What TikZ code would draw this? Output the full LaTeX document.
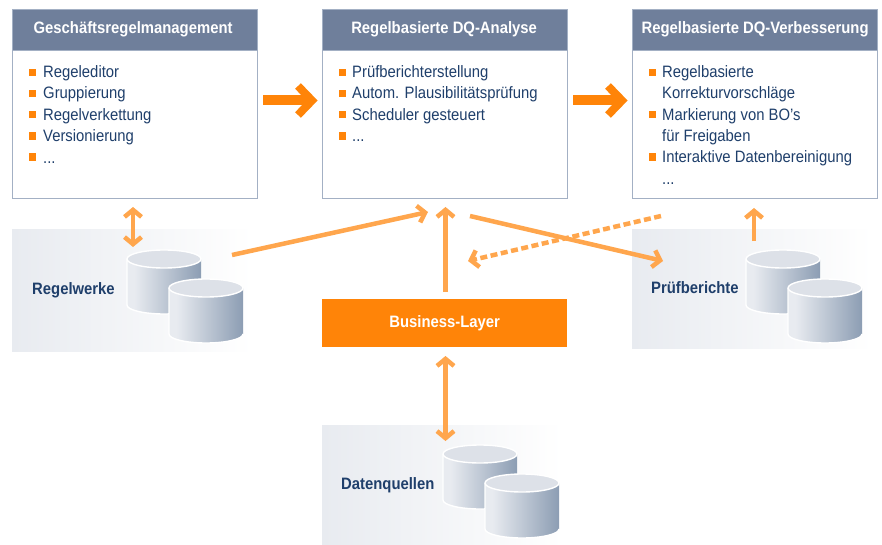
\documentclass[tikz,border=0pt]{standalone}
\usepackage{fontspec}
\setmainfont{Liberation Sans}[FakeStretch=0.9]
\usetikzlibrary{arrows.meta}
\definecolor{hdr}{HTML}{6F7F9B}
\definecolor{edge}{HTML}{A3B0C4}
\definecolor{navy}{HTML}{1F3F6B}
\definecolor{orng}{HTML}{FF8408}
\definecolor{lorng}{HTML}{FFA64D}
\definecolor{pale}{HTML}{E8EBF0}
\definecolor{captop}{HTML}{DDE1E8}
\definecolor{cylr}{HTML}{8C9DB3}
\pgfdeclarehorizontalshading{cylshade}{100bp}{color(0bp)=(pale); color(30bp)=(pale); color(75bp)=(cylr); color(100bp)=(cylr)}
\tikzset{
  x=1pt,y=-1pt,
  boxbody/.style={draw=edge,line width=1.2pt,fill=white,anchor=north west,minimum width=245pt,minimum height=189pt,inner sep=0pt},
  boxhead/.style={draw=edge,line width=1.2pt,fill=hdr,anchor=north west,minimum width=245pt,minimum height=41pt,inner sep=0pt,text=white,font=\fontsize{16.5}{18}\selectfont\bfseries},
  panel/.style={anchor=north west,left color=pale,right color=white,minimum width=240pt,inner sep=0pt},
  lab/.style={anchor=west,text=navy,inner sep=0pt,font=\fontsize{16.5}{18}\selectfont\bfseries},
  item/.style={anchor=base west,text=navy,inner sep=0pt,font=\fontsize{16.5}{18}\selectfont},
  bul/.style={fill=orng,minimum size=7.5pt,inner sep=0pt,draw=none},
  bigarrow/.style={draw=orng,line width=10pt},
  link/.style={draw=lorng,line width=4.5pt,-{Straight Barb[length=7pt,width=17pt,line width=4.5pt]}},
  linkb/.style={draw=lorng,line width=4.5pt,{Straight Barb[length=7pt,width=17pt,line width=4.5pt]}-{Straight Barb[length=7pt,width=17pt,line width=4.5pt]}},
  layer/.style={fill=orng,text=white,anchor=north west,minimum width=245pt,minimum height=48pt,inner sep=0pt,font=\fontsize{16.5}{18}\selectfont\bfseries}
}
\newcommand\dbcyl[2]{%
  \shade[shading=cylshade] (#1,#2) -- (#1+74,#2) -- (#1+74,#2+46) arc[start angle=0,end angle=-180,x radius=37pt,y radius=9pt] -- cycle;
  \draw[white,line width=1.4pt] (#1,#2) -- (#1,#2+46) arc[start angle=180,end angle=360,x radius=37pt,y radius=9pt];
  \draw[white,line width=1.4pt,fill=captop] (#1+37,#2) ellipse[x radius=37pt,y radius=9pt];
}
\newcommand\itemrow[3]{\node[item] at (#1,#2+5.5) {#3};}
\newcommand\bulrow[3]{\node[bul] (#3) at (#1,#2) {};}
\begin{document}
\begin{tikzpicture}
\useasboundingbox (0,0) rectangle (882,545);
% panels
\node[panel,minimum height=122pt] (pw) at (12,229) {};
\node[panel,minimum height=119pt] (pb) at (632,229) {};
\node[panel,minimum height=120pt] (pd) at (322,425) {};
% boxes
\node[boxbody] (b1) at (12,9) {};
\node[boxbody] (b2) at (322,9) {};
\node[boxbody] (b3) at (632,9) {};
\node[boxhead,text height=12pt,text depth=5pt] (h1) at (12,9) {Geschäftsregelmanagement\hspace*{4pt}};
\node[boxhead,text height=12pt,text depth=5pt] (h2) at (322,9) {Regelbasierte DQ-Analyse\hspace*{2pt}};
\node[boxhead,text height=12pt,text depth=5pt] (h3) at (632,9) {Regelbasierte DQ-Verbesserung};
% box 1
\bulrow{32.5}{72.5}{a1}\bulrow{32.5}{93.5}{a2}\bulrow{32.5}{114.5}{a3}\bulrow{32.5}{136}{a4}\bulrow{32.5}{157}{a5}
\itemrow{43}{72}{Regeleditor}\itemrow{43}{93}{Gruppierung}\itemrow{43}{115}{Regelverkettung}\itemrow{43}{136}{Versionierung}\itemrow{43}{158}{...}
% box 2
\bulrow{342.5}{72.5}{c1}\bulrow{342.5}{93.5}{c2}\bulrow{342.5}{114.5}{c3}\bulrow{342.5}{136}{c4}
\itemrow{352}{72}{Prüfberichterstellung}\itemrow{352}{93}{Autom. Plausibilitätsprüfung}\itemrow{352}{115}{Scheduler gesteuert}\itemrow{352}{136}{...}
% box 3
\bulrow{652.5}{72.5}{d1}\bulrow{652.5}{114.5}{d2}\bulrow{652.5}{157}{d3}
\itemrow{662}{72}{Regelbasierte}\itemrow{662}{93}{Korrekturvorschläge}\itemrow{662}{115}{Markierung von BO's}\itemrow{662}{136}{für Freigaben}\itemrow{662}{157}{Interaktive Datenbereinigung}\itemrow{662}{179}{...}
% big arrows
\coordinate (g1s) at (263,100.5); \coordinate (g1e) at (312,100.5);
\coordinate (g1a) at (298,86); \coordinate (g1b) at (298,115);
\coordinate (g2s) at (573,100.5); \coordinate (g2e) at (622,100.5);
\coordinate (g2a) at (608,86); \coordinate (g2b) at (608,115);
\draw[bigarrow] (g1s) -- (g1e);
\draw[bigarrow,line width=8pt,miter limit=10] (g1a) -- (g1e) -- (g1b);
\draw[bigarrow] (g2s) -- (g2e);
\draw[bigarrow,line width=8pt,miter limit=10] (g2a) -- (g2e) -- (g2b);
% cylinders
\dbcyl{127}{259}\dbcyl{169}{288}
\dbcyl{746}{259}\dbcyl{788}{288}
\dbcyl{443}{454}\dbcyl{485}{483}
% labels
\node[lab] (lw) at (32,290) {Regelwerke};
\node[lab] (lb) at (651,287.5) {Prüfberichte};
\node[lab] (ld) at (341,485) {Datenquellen};
\node[layer] (bl) at (322,299) {Business-Layer};
% connectors
\coordinate (e1) at (133,207); \coordinate (e2) at (133,247);
\coordinate (e3) at (232,255); \coordinate (e4) at (428,212);
\coordinate (e5) at (445.5,292); \coordinate (e6) at (445.5,207);
\coordinate (e7) at (470,216); \coordinate (e8) at (663,261);
\coordinate (e9) at (661,216); \coordinate (e10) at (468,261);
\coordinate (e11) at (754,241); \coordinate (e12) at (754,208);
\coordinate (e13) at (445.5,356); \coordinate (e14) at (445.5,441);
\draw[linkb] (e1) -- (e2);
\draw[link] (e3) -- (e4);
\draw[link] (e5) -- (e6);
\draw[link,dash pattern=on 7pt off 3.5pt] (e9) -- (e10);
\draw[link] (e7) -- (e8);
\draw[link] (e11) -- (e12);
\draw[linkb] (e13) -- (e14);
\end{tikzpicture}
\end{document}
